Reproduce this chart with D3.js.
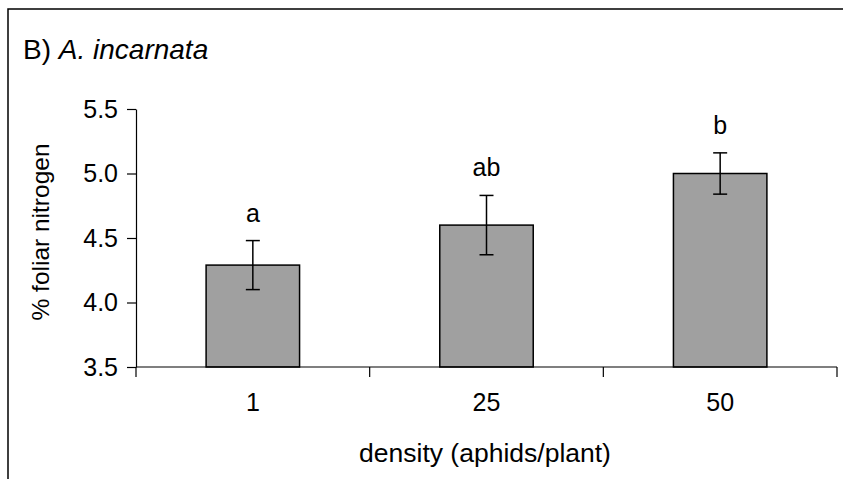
<!DOCTYPE html>
<html><head><meta charset="utf-8">
<script src="https://cdn.jsdelivr.net/npm/d3@7"></script>
<style>body{margin:0;background:#fff}svg{display:block}text{font-family:Arial,"Liberation Sans",sans-serif;fill:#000}</style>
</head><body>
<svg id="c" width="843" height="479"></svg>
<script>
const categories = ["1", "25", "50"];
const means = [4.29, 4.60, 5.00];
const errors = [0.19, 0.23, 0.16];
const letters = ["a", "ab", "b"];
const yTicks = [3.5, 4.0, 4.5, 5.0, 5.5];

const svg = d3.select("#c");
const x0 = 136, x1 = 837, yTop = 109, yBot = 367;
const x = d3.scaleBand().domain(categories).range([x0, x1]).padding(0);
const y = d3.scaleLinear().domain([3.5, 5.5]).range([yBot, yTop]);

// frame
svg.append("path").attr("d", "M8,479V9H843").attr("fill", "none").attr("stroke", "#000").attr("stroke-width", 1.5);

// title
const t = svg.append("text").attr("x", 23).attr("y", 59).attr("font-size", 28);
t.append("tspan").text("B) ");
t.append("tspan").attr("font-style", "italic").text("A. incarnata");

// bars
const bw = x.bandwidth() * 0.4;
const g = svg.append("g");
categories.forEach((c, i) => {
  const cx = x(c) + x.bandwidth() / 2;
  g.append("rect").attr("x", cx - bw / 2).attr("y", y(means[i])).attr("width", bw)
    .attr("height", y(3.5) - y(means[i])).attr("fill", "#a0a0a0").attr("stroke", "#000").attr("stroke-width", 1.5);
  const hi = y(means[i] + errors[i]), lo = y(means[i] - errors[i]);
  g.append("line").attr("x1", cx).attr("x2", cx).attr("y1", hi).attr("y2", lo).attr("stroke", "#000").attr("stroke-width", 1.5);
  [hi, lo].forEach(v => g.append("line").attr("x1", cx - 7).attr("x2", cx + 7).attr("y1", v).attr("y2", v).attr("stroke", "#000").attr("stroke-width", 1.5));
  g.append("text").attr("x", cx).attr("y", hi - 19).attr("text-anchor", "middle").attr("font-size", 25).text(letters[i]);
});

// y axis
const ya = svg.append("g").attr("transform", `translate(${x0},0)`)
  .call(d3.axisLeft(y).tickValues(yTicks).tickFormat(d3.format(".1f")).tickSize(9).tickSizeOuter(0).tickPadding(9));
ya.selectAll("text").attr("font-size", 25).attr("font-family", "Arial, 'Liberation Sans', sans-serif").attr("fill", "#000");
ya.selectAll("line,path").attr("stroke", "#000").attr("stroke-width", 1.2);

// x axis
const xa = svg.append("g").attr("transform", `translate(0,${yBot})`);
xa.append("line").attr("x1", x0).attr("x2", x1).attr("y1", 0).attr("y2", 0).attr("stroke", "#000").attr("stroke-width", 1.2);
const bounds = categories.map(c => x(c)).concat([x1]);
bounds.forEach(b => xa.append("line").attr("x1", b).attr("x2", b).attr("y1", 0).attr("y2", 10).attr("stroke", "#000").attr("stroke-width", 1.2));
categories.forEach(c => xa.append("text").attr("x", x(c) + x.bandwidth() / 2).attr("y", 44).attr("text-anchor", "middle").attr("font-size", 25).text(c));

// axis titles
svg.append("text").attr("x", 485).attr("y", 462).attr("text-anchor", "middle").attr("font-size", 26.5).text("density (aphids/plant)");
svg.append("text").attr("transform", `translate(49,232) rotate(-90)`).attr("text-anchor", "middle").attr("font-size", 24.5).text("% foliar nitrogen");
</script>
</body></html>
